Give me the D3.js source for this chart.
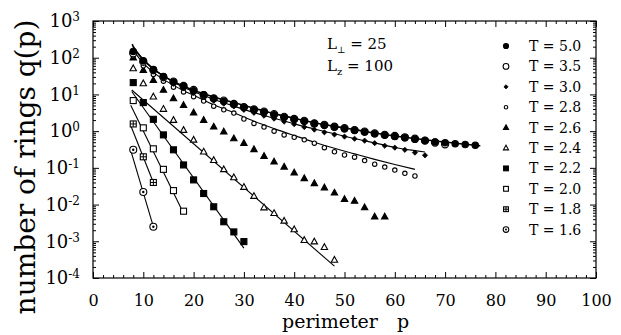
<!DOCTYPE html>
<html>
<head>
<meta charset="utf-8">
<script src="https://cdn.jsdelivr.net/npm/d3@7"></script>
<style>
  body { margin: 0; background: #fff; }
  svg { font-family: "DejaVu Serif", "Liberation Serif", serif; }
</style>
</head>
<body>
<div id="chart"></div>
<script>
// perimeter values of the measured rings
var perimeter = [8,10,12,14,16,18,20,22,24,26,28,30,32,34,36,38,40,42,44,46,48,50,52,54,56,58,60,62,64,66,68,70,72,74,76];

// q(p) for each temperature
var q50 = [148,83,48,31,21.9,16.6,12.6,9.8,7.8,6.5,5.4,4.5,3.8,3.3,2.8,2.4,2.1,1.86,1.62,1.45,1.29,1.17,1.05,0.95,0.85,0.78,0.71,0.66,0.60,0.56,0.51,0.48,0.45,0.43,0.41];
var q35 = [132,78,46,29.5,22.4,17,13.2,9.5,7.8,6.8,5.5,4.5,3.9,3.4,2.9,2.45,2.14,1.9,1.62,1.48,1.32,1.2,1.07,0.97,0.87,0.79,0.74,0.68,0.62,0.55,0.49,0.44];
var q30 = [120,71,42,27,19.5,14.5,11,8.5,6.8,5.6,4.7,3.8,3.16,2.63,2.19,1.82,1.55,1.29,1.10,0.93,0.81,0.71,0.62,0.55,0.47,0.40,0.355,0.31,0.26,0.22];
var q28 = [112,60,35,23,15.8,11.7,8.7,6.6,4.8,3.8,3.1,2.14,1.62,1.29,1.0,0.79,0.68,0.58,0.47,0.355,0.275,0.224,0.195,0.158,0.126,0.105,0.087,0.071,0.060];
var q26 = [100,46,24.5,13.2,7.8,5.1,3.2,2.0,1.32,0.97,0.63,0.47,0.32,0.21,0.148,0.107,0.074,0.052,0.038,0.029,0.021,0.014,0.0126,0.0084,0.0047,0.0047];
var q24 = [51,20,8.7,4.0,2.0,1.07,0.58,0.275,0.162,0.091,0.055,0.030,0.017,0.0083,0.0058,0.0036,0.0021,0.00107,0.00098,0.00069,0.00031];
var q22 = [21,6.0,2.1,0.79,0.31,0.12,0.047,0.020,0.0087,0.0034,0.0018,0.00098];
var q20 = [6.8,1.23,0.33,0.091,0.024,0.0066];
var q18 = [1.57,0.20,0.040];
var q16 = [0.31,0.022,0.0025];

// fitted curves: [p, q] pairs
var fit50 = [[7.8,234],[8,200],[9,126],[10,89],[12,50],[14,32],[16,22.4],[18,16.6],[20,12.9],[24,8.5],[28,6.0],[32,4.2],[36,3.0],[40,2.24],[44,1.70],[48,1.35],[52,1.10],[56,0.89],[60,0.74],[64,0.63],[68,0.54],[72,0.47],[77,0.40]];
var fit30 = [[8,200],[10,89],[12,50],[14,32],[16,21.9],[18,15.8],[20,12.0],[24,7.4],[28,4.8],[32,3.2],[36,2.24],[40,1.58],[44,1.15],[48,0.85],[52,0.63],[56,0.48],[60,0.36],[64,0.295],[66,0.27]];
var fit28 = [[8,158],[10,71],[12,40],[14,25.7],[16,17.8],[18,12.6],[20,9.5],[24,5.2],[28,3.16],[32,1.86],[36,1.17],[40,0.76],[44,0.50],[48,0.34],[52,0.24],[56,0.17],[60,0.123],[64,0.091]];
var fit24 = [[7.7,13.2],[48,0.00021]];
var fit22 = [[7.7,12],[30,0.00065]];
var fit20 = [[7.5,5.1],[17.8,0.0066]];
var fit18 = [[7.6,1.32],[12,0.040]];
var fit16 = [[7.5,0.30],[12,0.0025]];

var temps = ["T = 5.0","T = 3.5","T = 3.0","T = 2.8","T = 2.6","T = 2.4","T = 2.2","T = 2.0","T = 1.8","T = 1.6"];
var yExps = [3,2,1,0,-1,-2,-3,-4];
var xTicks = [0,10,20,30,40,50,60,70,80,90,100];

var width = 621, height = 335;
var margin = {left: 93, top: 21, right: 25, bottom: 57};

var svg = d3.select("#chart").append("svg")
    .attr("width", width)
    .attr("height", height);

var x = d3.scaleLinear().domain([0, 100]).range([margin.left, width - margin.right]);
var y = d3.scaleLog().domain([1e-4, 1e3]).range([height - margin.bottom, margin.top]);

var x0 = x(0), x1 = x(100), y0 = y(1e-4), y1 = y(1e3);

// minor tick values
var xMinor = d3.range(0, 101, 2).filter(function(d) { return d % 10 != 0; });
var yMinor = [];
yExps.forEach(function(e) {
  if (e == 3) return;
  for (var k = 2; k < 10; k++) yMinor.push(k * Math.pow(10, e));
});
var yMajor = yExps.map(function(e) { return Math.pow(10, e); });

function styleAxis(g) {
  g.select(".domain").remove();
  g.selectAll("line").attr("stroke", "#000").attr("stroke-width", 1);
}

// bottom
svg.append("g").attr("transform", "translate(0," + y0 + ")")
  .call(d3.axisBottom(x).tickValues(xMinor).tickSize(-3).tickFormat(""))
  .call(styleAxis);
var gb = svg.append("g").attr("transform", "translate(0," + y0 + ")")
  .call(d3.axisBottom(x).tickValues(xTicks).tickSize(-6).tickPadding(17).tickFormat(d3.format("d")))
  .call(styleAxis);
gb.selectAll("text").attr("font-size", "16px").attr("fill", "#000").attr("font-family", "DejaVu Serif");

// top
svg.append("g").attr("transform", "translate(0," + y1 + ")")
  .call(d3.axisTop(x).tickValues(xMinor).tickSize(-3).tickFormat(""))
  .call(styleAxis);
svg.append("g").attr("transform", "translate(0," + y1 + ")")
  .call(d3.axisTop(x).tickValues(xTicks).tickSize(-6).tickFormat(""))
  .call(styleAxis);

// left
svg.append("g").attr("transform", "translate(" + x0 + ",0)")
  .call(d3.axisLeft(y).tickValues(yMinor).tickSize(-3).tickFormat(""))
  .call(styleAxis);
var gl = svg.append("g").attr("transform", "translate(" + x0 + ",0)")
  .call(d3.axisLeft(y).tickValues(yMajor).tickSize(-6).tickPadding(13).tickFormat(""))
  .call(styleAxis);
gl.selectAll(".tick text").each(function(d) {
  var t = d3.select(this).attr("font-size", "18px").attr("fill", "#000").attr("font-family", "DejaVu Serif");
  t.text(null);
  t.append("tspan").text("10");
  t.append("tspan").attr("dy", "-0.5em").attr("font-size", "12px").text(String(Math.round(Math.log10(d))));
});

// right
svg.append("g").attr("transform", "translate(" + x1 + ",0)")
  .call(d3.axisRight(y).tickValues(yMinor).tickSize(-3).tickFormat(""))
  .call(styleAxis);
svg.append("g").attr("transform", "translate(" + x1 + ",0)")
  .call(d3.axisRight(y).tickValues(yMajor).tickSize(-6).tickFormat(""))
  .call(styleAxis);

// frame
svg.append("rect")
  .attr("x", x0).attr("y", y1)
  .attr("width", x1 - x0).attr("height", y0 - y1)
  .attr("fill", "none").attr("stroke", "#000").attr("stroke-width", 1.2);

// fit lines
var line = d3.line()
  .x(function(d) { return x(d[0]); })
  .y(function(d) { return y(d[1]); })
  .curve(d3.curveMonotoneX);

[fit50, fit30, fit28, fit24, fit22, fit20, fit18, fit16].forEach(function(f, i) {
  svg.append("path")
    .attr("d", line(f))
    .attr("fill", "none")
    .attr("stroke", "#000")
    .attr("stroke-width", i == 0 ? 1.6 : 1.1);
});

// marker drawing
var markers = [
  {type: "circle", r: 3.2, fill: true},
  {type: "circle", r: 3.6, fill: false},
  {type: "diamond", r: 2.6, fill: true},
  {type: "circle", r: 2.2, fill: false},
  {type: "triangle", r: 3.2, fill: true},
  {type: "triangle", r: 3.2, fill: false},
  {type: "square", r: 3.0, fill: true},
  {type: "square", r: 3.0, fill: false},
  {type: "crossSquare", r: 3.0, fill: false},
  {type: "dotCircle", r: 3.5, fill: false}
];

function drawMarker(g, m, cx, cy, scale) {
  var r = m.r * (scale || 1);
  var fill = m.fill ? "#000" : "#fff";
  if (m.type == "circle" || m.type == "dotCircle") {
    g.append("circle").attr("cx", cx).attr("cy", cy).attr("r", r)
      .attr("fill", fill).attr("stroke", "#000").attr("stroke-width", 1.1);
    if (m.type == "dotCircle")
      g.append("circle").attr("cx", cx).attr("cy", cy).attr("r", r * 0.35).attr("fill", "#000");
  } else if (m.type == "square" || m.type == "crossSquare") {
    g.append("rect").attr("x", cx - r).attr("y", cy - r).attr("width", 2 * r).attr("height", 2 * r)
      .attr("fill", fill).attr("stroke", "#000").attr("stroke-width", 1.1);
    if (m.type == "crossSquare")
      g.append("path").attr("d", "M" + (cx - r) + "," + cy + "H" + (cx + r) + "M" + cx + "," + (cy - r) + "V" + (cy + r))
        .attr("stroke", "#000").attr("stroke-width", 1);
  } else if (m.type == "triangle") {
    var h = r * 1.8;
    g.append("path")
      .attr("d", "M" + cx + "," + (cy - h * 0.6) + "L" + (cx + r) + "," + (cy + h * 0.4) + "L" + (cx - r) + "," + (cy + h * 0.4) + "Z")
      .attr("fill", fill).attr("stroke", "#000").attr("stroke-width", 1.1);
  } else if (m.type == "diamond") {
    g.append("path")
      .attr("d", "M" + cx + "," + (cy - r) + "L" + (cx + r) + "," + cy + "L" + cx + "," + (cy + r) + "L" + (cx - r) + "," + cy + "Z")
      .attr("fill", fill).attr("stroke", "#000").attr("stroke-width", 0.8);
  }
}

var series = [q50, q35, q30, q28, q26, q24, q22, q20, q18, q16];
var pts = svg.append("g");
// draw lower series first so the top ones sit above
for (var s = series.length - 1; s >= 0; s--) {
  series[s].forEach(function(v, i) {
    drawMarker(pts, markers[s], x(perimeter[i]), y(v));
  });
}

// legend
var lg = svg.append("g");
temps.forEach(function(t, i) {
  var ly = 46 + i * 20.4;
  drawMarker(lg, markers[i], 506, ly, 0.8);
  lg.append("text")
    .attr("x", 529).attr("y", ly + 5)
    .attr("font-size", "14px")
    .text(t);
});

// system size annotation
var ann = svg.append("g").attr("font-size", "15px");
var a1 = ann.append("text").attr("x", 327).attr("y", 49);
a1.append("tspan").text("L");
a1.append("tspan").attr("dy", "4").attr("font-size", "9px").text("\u22A5");
a1.append("tspan").attr("dy", "-4").text(" = 25");
var a2 = ann.append("text").attr("x", 327).attr("y", 71);
a2.append("tspan").text("L");
a2.append("tspan").attr("dy", "4").attr("font-size", "10px").text("z");
a2.append("tspan").attr("dy", "-4").text(" = 100");

// axis titles
svg.append("text")
  .attr("transform", "translate(35," + 167 + ") rotate(-90)")
  .attr("text-anchor", "middle")
  .attr("font-size", "28px")
  .text("number of rings q(p)");

svg.append("text")
  .attr("x", 330).attr("y", 328)
  .attr("text-anchor", "middle")
  .attr("font-size", "19px")
  .text("perimeter");
svg.append("text")
  .attr("x", 403).attr("y", 328)
  .attr("text-anchor", "middle")
  .attr("font-size", "19px")
  .text("p");
</script>
</body>
</html>
